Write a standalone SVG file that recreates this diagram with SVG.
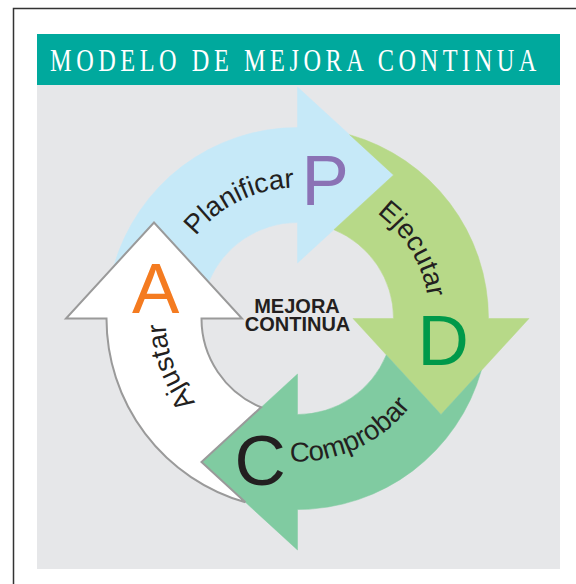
<svg xmlns="http://www.w3.org/2000/svg" xmlns:xlink="http://www.w3.org/1999/xlink" width="576" height="584" viewBox="0 0 576 584">
  <style>
    .lbl { font-family: "Liberation Sans", Arial, sans-serif; font-size: 27.5px; fill: #231F20; }
    .big { font-family: "Liberation Sans", Arial, sans-serif; font-size: 71px; }
    .ctr { font-family: "Liberation Sans", Arial, sans-serif; font-size: 20px; font-weight: bold; fill: #231F20; text-anchor: middle; }
    .title { font-family: "Liberation Serif", "Times New Roman", serif; font-size: 32px; fill: #FFFFFF; }
  </style>
  <defs>
    <path id="arrow" d="M -36.4 88.8 L -96 143.5 L -52.1 183.8 A 191 191 0 0 1 -191 0 L -231.5 0 L -143.5 -96 L -55.5 0 L -96 0 A 96 96 0 0 0 -36.4 88.8 Z"/>
    <path id="pPlan" d="M -101.8 -82.4 A 131 131 0 0 1 65.5 -113.4"/>
    <path id="pEjec" d="M 79.4 -105.4 A 132 132 0 0 1 130 22.9"/>
    <path id="pComp" d="M -7.5 142.8 A 143 143 0 0 0 134.4 48.9"/>
    <path id="pAjus" d="M -102.1 83.8 A 132 132 0 0 1 -124 -45.1"/>
  </defs>

  <rect x="13.5" y="8.5" width="640" height="640" fill="#FFFFFF" stroke="#333333" stroke-width="1.5"/>
  <rect x="37" y="84" width="523" height="485" fill="#E6E7E9"/>

  <g id="header">
    <rect x="37" y="34" width="523" height="51" fill="#00A99D"/>
    <text class="title" transform="translate(50,71) scale(0.76,1)" x="0" y="0" textLength="640" lengthAdjust="spacing">MODELO DE MEJORA CONTINUA</text>
  </g>

  <g transform="translate(297.5,318.5)">
    <g id="planificar">
      <use xlink:href="#arrow" transform="rotate(90)" fill="#C6E9F8" stroke="#C6E9F8" stroke-width="0.5"/>
      <text class="lbl"><textPath xlink:href="#pPlan">Planificar</textPath></text>
      <text class="big" x="4" y="-113.5" fill="#8B72B5">P</text>
    </g>
    <g id="ejecutar">
      <use xlink:href="#arrow" transform="rotate(180)" fill="#B7D988" stroke="#B7D988" stroke-width="0.5"/>
      <text class="lbl"><textPath xlink:href="#pEjec">Ejecutar</textPath></text>
      <text class="big" x="120" y="46.5" fill="#00994A">D</text>
    </g>
    <g id="comprobar">
      <use xlink:href="#arrow" transform="rotate(270)" fill="#80CBA1" stroke="#80CBA1" stroke-width="0.5"/>
      <text class="lbl"><textPath xlink:href="#pComp">Comprobar</textPath></text>
      <text class="big" x="-63" y="166.5" fill="#231F20">C</text>
    </g>
    <g id="ajustar">
      <use xlink:href="#arrow" fill="#FFFFFF" stroke="#9A9A9A" stroke-width="2"/>
      <text class="lbl"><textPath xlink:href="#pAjus">Ajustar</textPath></text>
      <text class="big" x="-165.5" y="-5.5" fill="#F47B20">A</text>
    </g>
  </g>

  <g id="center">
    <text class="ctr" x="297" y="313">MEJORA</text>
    <text class="ctr" x="297.5" y="331">CONTINUA</text>
  </g>
</svg>
